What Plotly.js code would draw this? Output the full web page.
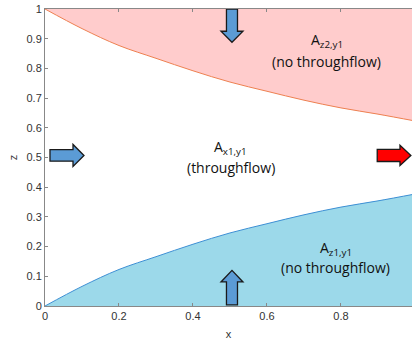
<!DOCTYPE html>
<html>
<head>
<meta charset="utf-8">
<script src="https://cdn.plot.ly/plotly-3.0.1.min.js"></script>
<style>html,body{margin:0;padding:0;background:#fff;}#chart{width:412px;height:344px;}</style>
</head>
<body>
<div id="chart"></div>
<script>
// Data
var xs = [0, 0.1, 0.2, 0.3, 0.4, 0.5, 0.6, 0.7, 0.8, 0.9, 1.0];
var lowerZ = [0, 0.066, 0.123, 0.166, 0.208, 0.246, 0.277, 0.307, 0.333, 0.354, 0.377];
var upperZ = [1, 0.934, 0.877, 0.834, 0.792, 0.754, 0.723, 0.693, 0.667, 0.646, 0.623];
var topZ = [1, 1, 1, 1, 1, 1, 1, 1, 1, 1, 1];
var xTicks = [0, 0.2, 0.4, 0.6, 0.8];
var zTicks = [0, 0.1, 0.2, 0.3, 0.4, 0.5, 0.6, 0.7, 0.8, 0.9, 1];
var regionNames = ['A<sub>z2,y1</sub>', 'A<sub>x1,y1</sub>', 'A<sub>z1,y1</sub>'];
var regionNotes = ['(no throughflow)', '(throughflow)', '(no throughflow)'];
var labelX = [0.761, 0.502, 0.786];
var nameZ = [0.893, 0.534, 0.192];
var noteZ = [0.823, 0.468, 0.128];

var traces = [
  {x: xs, y: topZ, mode: 'lines', line: {width: 0, color: 'rgba(0,0,0,0)'}, hoverinfo: 'skip', showlegend: false},
  {x: xs, y: upperZ, mode: 'lines', fill: 'tonexty', fillcolor: '#ffcccc',
   line: {color: '#ee8050', width: 1, shape: 'spline'}, showlegend: false},
  {x: xs, y: lowerZ, mode: 'lines', fill: 'tozeroy', fillcolor: '#9cd9ea',
   line: {color: '#3d8fd4', width: 1, shape: 'spline'}, showlegend: false}
];

function vArrowDown(cx, top, shaftBot, tip, sw, hw) {
  return 'M' + (cx - sw) + ',' + top + ' L' + (cx + sw) + ',' + top + ' L' + (cx + sw) + ',' + shaftBot +
    ' L' + (cx + hw) + ',' + shaftBot + ' L' + cx + ',' + tip + ' L' + (cx - hw) + ',' + shaftBot +
    ' L' + (cx - sw) + ',' + shaftBot + ' Z';
}
function hArrowRight(left, shaftEnd, tip, cy, sh, hh) {
  return 'M' + left + ',' + (cy + sh) + ' L' + shaftEnd + ',' + (cy + sh) + ' L' + shaftEnd + ',' + (cy + hh) +
    ' L' + tip + ',' + cy + ' L' + shaftEnd + ',' + (cy - hh) + ' L' + shaftEnd + ',' + (cy - sh) +
    ' L' + left + ',' + (cy - sh) + ' Z';
}

var arrowLine = {color: '#1a1a1a', width: 1.3};
var shapes = [
  {type: 'path', xref: 'x', yref: 'y', path: vArrowDown(0.5054, 1.0, 0.925, 0.888, 0.0149, 0.0297),
   fillcolor: '#5b9bd5', line: arrowLine},
  {type: 'path', xref: 'x', yref: 'y', path: vArrowDown(0.5054, 0.004, 0.081, 0.120, 0.0149, 0.0297),
   fillcolor: '#5b9bd5', line: arrowLine},
  {type: 'path', xref: 'x', yref: 'y', path: hArrowRight(0.0135, 0.0757, 0.1054, 0.507, 0.0195, 0.037),
   fillcolor: '#5b9bd5', line: arrowLine},
  {type: 'path', xref: 'x', yref: 'y', path: hArrowRight(0.898, 0.9595, 0.989, 0.507, 0.0205, 0.034),
   fillcolor: '#ff0000', line: arrowLine}
];

var labelFont = {family: 'Open Sans, sans-serif', size: 14, color: '#111'};
var annotations = [];
for (var i = 0; i < regionNames.length; i++) {
  annotations.push({x: labelX[i], y: nameZ[i], xref: 'x', yref: 'y', text: regionNames[i],
    showarrow: false, font: labelFont});
  annotations.push({x: labelX[i], y: noteZ[i], xref: 'x', yref: 'y', text: regionNotes[i],
    showarrow: false, font: labelFont});
}

var axisFont = {family: 'Liberation Sans, Arial, sans-serif', size: 11, color: '#333'};
var layout = {
  width: 412, height: 344,
  margin: {l: 45, r: 0, t: 9, b: 38, pad: 0},
  paper_bgcolor: '#fff', plot_bgcolor: '#fff',
  showlegend: false,
  xaxis: {range: [0, 0.992], tickvals: xTicks, ticktext: xTicks.map(String), ticks: 'inside', ticklen: 3,
    tickcolor: '#888', showline: true, linecolor: '#888', linewidth: 1, mirror: 'ticks',
    showgrid: false, zeroline: false, tickfont: axisFont, automargin: false,
    title: {text: 'x', font: axisFont, standoff: 9}},
  yaxis: {range: [0, 1], tickvals: zTicks, ticktext: zTicks.map(String), ticks: 'inside', ticklen: 3,
    tickcolor: '#888', showline: true, linecolor: '#888', linewidth: 1, mirror: false,
    showgrid: false, zeroline: false, tickfont: axisFont, automargin: false,
    title: {text: 'z', font: axisFont, standoff: 6}},
  shapes: shapes,
  annotations: annotations
};

Plotly.newPlot('chart', traces, layout, {displayModeBar: false, staticPlot: true});
</script>
</body>
</html>
